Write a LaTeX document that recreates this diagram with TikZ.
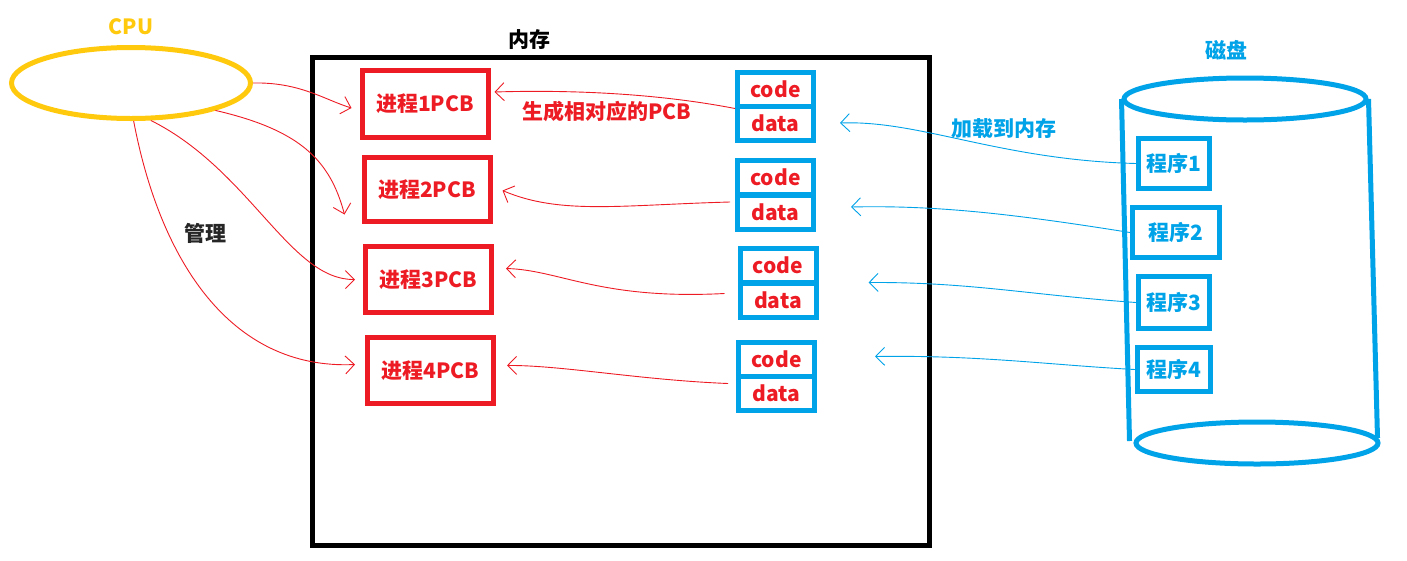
\documentclass[tikz,border=0pt]{standalone}
\usepackage{fontspec}
\setmainfont{Noto Sans CJK SC}
\usetikzlibrary{arrows.meta,shapes.geometric,calc}
\definecolor{pred}{HTML}{ED1C24}
\definecolor{pblue}{HTML}{00A2E8}
\definecolor{pyellow}{HTML}{FFC90E}
\definecolor{pdark}{HTML}{262626}
\begin{document}
\begin{tikzpicture}[x=1pt,y=-1pt,
  txt/.style={font=\fontsize{21}{24}\selectfont\bfseries, inner sep=0pt},
  pcb/.style={draw=pred, line width=5pt, minimum width=126pt, minimum height=65pt, inner sep=0pt, text=pred, font=\fontsize{21}{24}\selectfont\bfseries},
  half/.style={draw=pblue, line width=5pt, minimum width=76pt, minimum height=34pt, inner sep=0pt, text=pred, font=\fontsize{21}{24}\selectfont\bfseries},
  prog/.style={draw=pblue, line width=5pt, inner sep=0pt, text=pblue, font=\fontsize{21}{24}\selectfont\bfseries},
  rl/.style={draw=pred, line width=0.9pt, -{Straight Barb[length=9pt,width=18pt,line width=0.9pt]}},
  bl/.style={draw=pblue, line width=0.9pt, -{Straight Barb[length=9pt,width=18pt,line width=0.9pt]}}
]
\useasboundingbox (0,0) rectangle (1407,560);
% CPU
\node[txt, text=pyellow] (cpulabel) at (131,27) {CPU};
\node[draw=pyellow, line width=5pt, ellipse, minimum width=239pt, minimum height=71pt, inner sep=0pt] (cpu) at (131,83) {};
\node[txt, text=pdark] (guanli) at (205,233) {管理};
% memory
\node[draw=black, line width=5pt, minimum width=617pt, minimum height=488pt, inner sep=0pt] (mem) at (621,301.5) {};
\node[txt, text=black] (memlabel) at (529,40) {内存};
% PCBs
\node[pcb, minimum height=67pt] (p1) at (425,104) {进程1PCB};
\node[pcb, minimum height=64pt] (p2) at (427,189.5) {进程2PCB};
\node[pcb, minimum height=66pt] (p3) at (428.5,279.5) {进程3PCB};
\node[pcb, minimum height=66pt] (p4) at (430.5,370.5) {进程4PCB};
% code/data
\node[half] (c1) at (775.5,89) {code};
\node[half] (d1) at (775.5,123) {data};
\node[half] (c2) at (775.5,177.5) {code};
\node[half] (d2) at (775.5,212) {data};
\node[half] (c3) at (778,265) {code};
\node[half] (d3) at (778,300.5) {data};
\node[half] (c4) at (776.5,359.5) {code};
\node[half] (d4) at (776.5,393.5) {data};
% labels
\node[txt, text=pred] (gen) at (607,111) {生成相对应的PCB};
\node[txt, text=pblue] (load) at (1004,129) {加载到内存};
\node[txt, text=pblue] (disklabel) at (1226,50) {磁盘};
% disk cylinder
\node[draw=pblue, line width=5pt, ellipse, minimum width=242pt, minimum height=42pt, inner sep=0pt] (top) at (1245,99) {};
\node[draw=pblue, line width=5pt, ellipse, minimum width=242pt, minimum height=42pt, inner sep=0pt] (bot) at (1257,443) {};
\draw[pblue, line width=5pt] (top.west) -- ($(bot.west)+(-4,-2)$);
\draw[pblue, line width=5pt] (top.east) -- ($(bot.east)+(-3,-5)$);
% programs
\node[prog, minimum width=71pt, minimum height=50pt] (g1) at (1174,163.5) {程序1};
\node[prog, minimum width=87pt, minimum height=50pt] (g2) at (1176,232.5) {程序2};
\node[prog, minimum width=71pt, minimum height=52pt] (g3) at (1174,302.5) {程序3};
\node[prog, minimum width=73pt, minimum height=44pt] (g4) at (1174,369.5) {程序4};
% CPU -> PCB
\draw[rl] (cpu.east) .. controls (300,82) and (325,100) .. ($(p1.west)+(-8,4)$);
\draw[rl] (cpu.-18) .. controls (300,130) and (330,160) .. ($(p2.west)+(-17,25)$);
\draw[rl] (cpu.-62) .. controls (250,170) and (290,280) .. ($(p3.west)+(-8,0)$);
\draw[rl] (cpu.-86) .. controls (160,260) and (230,370) .. ($(p4.west)+(-10,-6)$);
% code -> PCB
\draw[rl] (c1.south west) .. controls (650,92) and (560,90) .. ($(p1.east)+(4,-12)$);
\draw[rl] ($(d2.west)+(-5,-10)$) .. controls (620,205) and (560,215) .. ($(p2.east)+(10,1)$);
\draw[rl] ($(d3.west)+(-13,-7)$) .. controls (600,300) and (560,270) .. ($(p3.east)+(12,-11)$);
\draw[rl] ($(d4.west)+(-8,-10)$) .. controls (640,380) and (560,365) .. ($(p4.east)+(11,-5)$);
% program -> data
\draw[bl] (g1.west) .. controls (1000,160) and (920,120) .. ($(d1.east)+(24,0)$);
\draw[bl] (g2.west) .. controls (1020,215) and (940,205) .. ($(d2.east)+(35,-5)$);
\draw[bl] (g3.west) .. controls (1030,295) and (970,282) .. ($(d3.east)+(50,-18)$);
\draw[bl] (g4.west) .. controls (1050,365) and (980,355) .. ($(d4.east)+(58,-37)$);
\end{tikzpicture}
\end{document}
